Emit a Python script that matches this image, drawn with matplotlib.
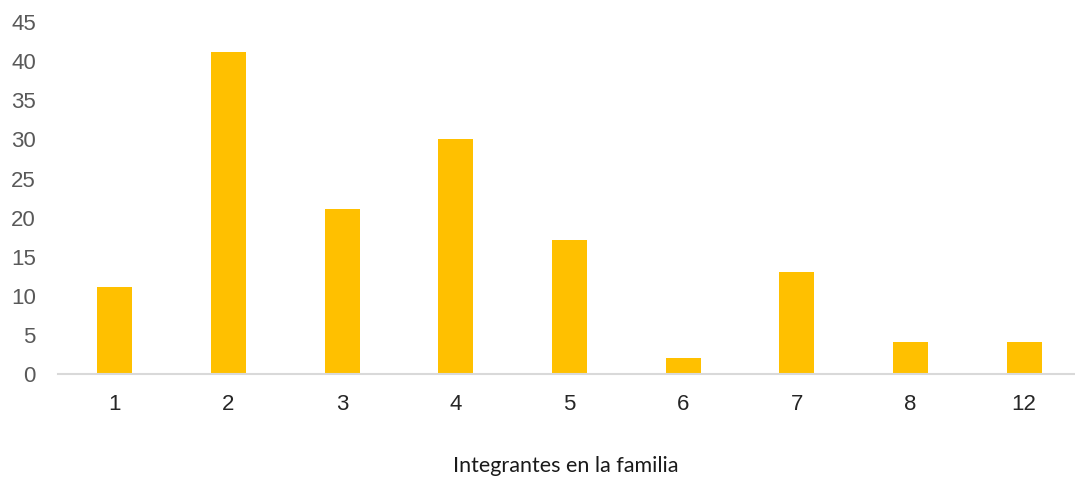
import numpy as np
import matplotlib.pyplot as plt

categorias = ['1', '2', '3', '4', '5', '6', '7', '8', '12']
frecuencia = [11, 41, 21, 30, 17, 2, 13, 4, 4]

W, H = 1075, 481
fig = plt.figure(figsize=(W / 100, H / 100), dpi=100)

# axes run past the right edge, like the original
left, right, bottom, top = 58, 1081, 374.5, 22
ax = fig.add_axes([left / W, (H - bottom) / H, (right - left) / W, (bottom - top) / H])

x = np.arange(len(categorias))
ax.bar(x, frecuencia, width=0.31, color='#FFC000', zorder=2)

ax.set_xlim(-0.5, len(categorias) - 0.5)
ax.set_ylim(0, 45)
ax.set_yticks(range(0, 46, 5))
ax.set_xticks(x)
ax.set_xticklabels(categorias)

for s in ['top', 'right', 'left']:
    ax.spines[s].set_visible(False)
ax.spines['bottom'].set_color('#d9d9d9')
ax.spines['bottom'].set_linewidth(1.5)

ax.tick_params(axis='y', length=0, pad=16, labelsize=16, labelcolor='#595959')
ax.tick_params(axis='x', length=0, pad=14, labelsize=16, labelcolor='#262626')
for lab in ax.get_xticklabels() + ax.get_yticklabels():
    lab.set_fontfamily('Liberation Sans')

fig.text(566 / W, 1 - 466 / H, 'Integrantes en la familia', ha='center', va='center',
         fontsize=15.5, family='Lato', color='#1a1a1a')

fig.savefig('out.png', dpi=100)
